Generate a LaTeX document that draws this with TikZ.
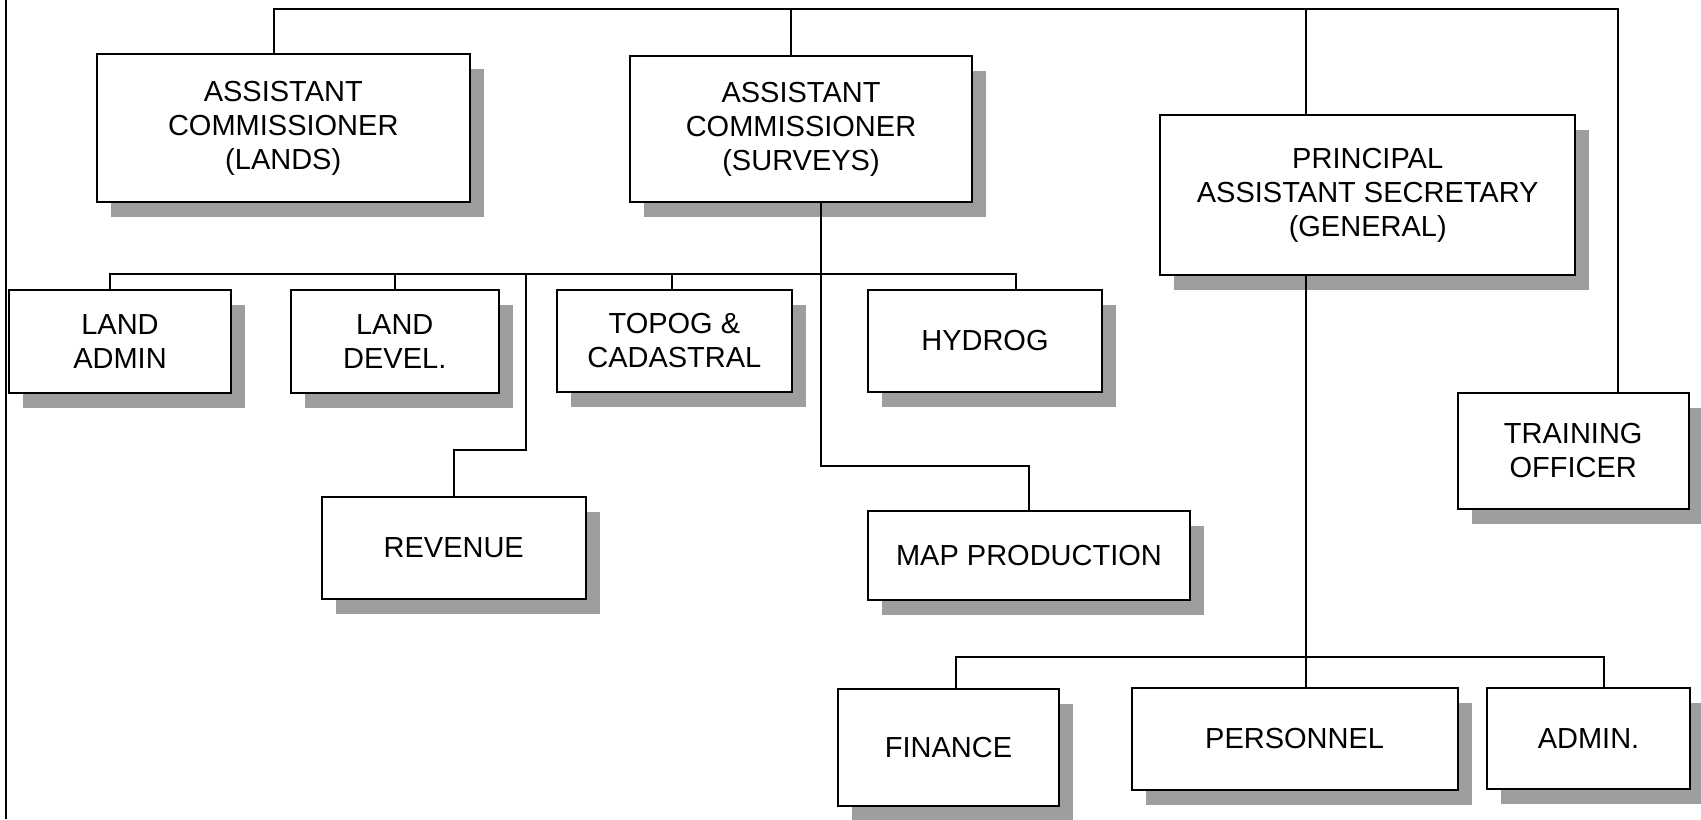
\documentclass[tikz,border=0pt]{standalone}
\usepackage{fontspec}
\setmainfont{Liberation Sans}
\usetikzlibrary{shadows}

% A unit box placed by its top-left and bottom-right corners (in px units)
\newcommand\unitbox[6]{%
  \node[unit, anchor=north west,
        minimum width={(#4-#2)*0.5pt}, minimum height={(#5-#3)*0.5pt}]
        (#1) at (#2,#3) {#6};}

\begin{document}
\begin{tikzpicture}[x=0.5pt,y=-0.5pt,
  unit/.style={draw=black, line width=1pt, fill=white, inner sep=0pt,
    align=center, font=\fontsize{14.5}{17}\selectfont,
    drop shadow={shadow xshift=7pt, shadow yshift=-7.5pt,
                 fill=black!38, opacity=1}},
  link/.style={line width=1pt}]
\useasboundingbox (0,0) rectangle (1701,819);

% frame edge on the left
\coordinate (fT) at (5.7,0);
\coordinate (fB) at (5.7,819);
\draw[link] (fT) -- (fB);

% top level
\unitbox{lands}{95.7}{53}{468.8}{201}{ASSISTANT\\COMMISSIONER\\(LANDS)}
\unitbox{surveys}{629}{55}{971}{201}{ASSISTANT\\COMMISSIONER\\(SURVEYS)}
\unitbox{principal}{1159.4}{114}{1574}{274}{PRINCIPAL\\ASSISTANT SECRETARY\\(GENERAL)}
\unitbox{training}{1456.5}{392}{1688}{508}{TRAINING\\OFFICER}

% lands and surveys sections
\unitbox{landadmin}{8.4}{289}{229.6}{391.5}{LAND\\ADMIN}
\unitbox{landdevel}{290}{289}{497.5}{391.5}{LAND\\DEVEL.}
\unitbox{topog}{555.7}{289}{791}{391}{TOPOG \&\\CADASTRAL}
\unitbox{hydrog}{866.9}{289}{1101}{391}{HYDROG}
\unitbox{revenue}{320.7}{496}{584.8}{598}{REVENUE}
\unitbox{mapprod}{866.9}{510}{1189}{599}{MAP PRODUCTION}

% general section
\unitbox{finance}{837}{688}{1058}{805}{FINANCE}
\unitbox{personnel}{1130.7}{687}{1456.5}{789}{PERSONNEL}
\unitbox{admin}{1486}{687}{1689}{788}{ADMIN.}

% top bus
\coordinate (tL) at (273.6,9);
\coordinate (tS) at (791,9);
\coordinate (tP) at (1305.8,9);
\coordinate (tT) at (1618,9);
\draw[link] (lands.north -| tL) -- (tL) -- (tT) -- (training.north -| tT);
\draw[link] (tS) -- (surveys.north -| tS);
\draw[link] (tP) -- (principal.north -| tP);

% section bus
\coordinate (bA) at (110,274);
\coordinate (bD) at (395,274);
\coordinate (bR) at (526,274);
\coordinate (bT) at (671.7,274);
\coordinate (bH) at (1016,274);
\draw[link] (landadmin.north -| bA) -- (bA) -- (bH) -- (hydrog.north -| bH);
\draw[link] (bD) -- (landdevel.north -| bD);
\draw[link] (bT) -- (topog.north -| bT);

% revenue branch
\coordinate (rE) at (526,450);
\draw[link] (bR) -- (rE) -| (revenue.north);

% surveys trunk down to map production
\coordinate (mE) at (821,466);
\draw[link] (surveys.south -| mE) -- (mE) -| (mapprod.north);

% general bus
\coordinate (pB) at (1305.8,657);
\coordinate (pF) at (955.6,657);
\coordinate (pA) at (1604,657);
\draw[link] (principal.south -| pB) -- (personnel.north -| pB);
\draw[link] (finance.north -| pF) -- (pF) -- (pA) -- (admin.north -| pA);
\end{tikzpicture}
\end{document}
